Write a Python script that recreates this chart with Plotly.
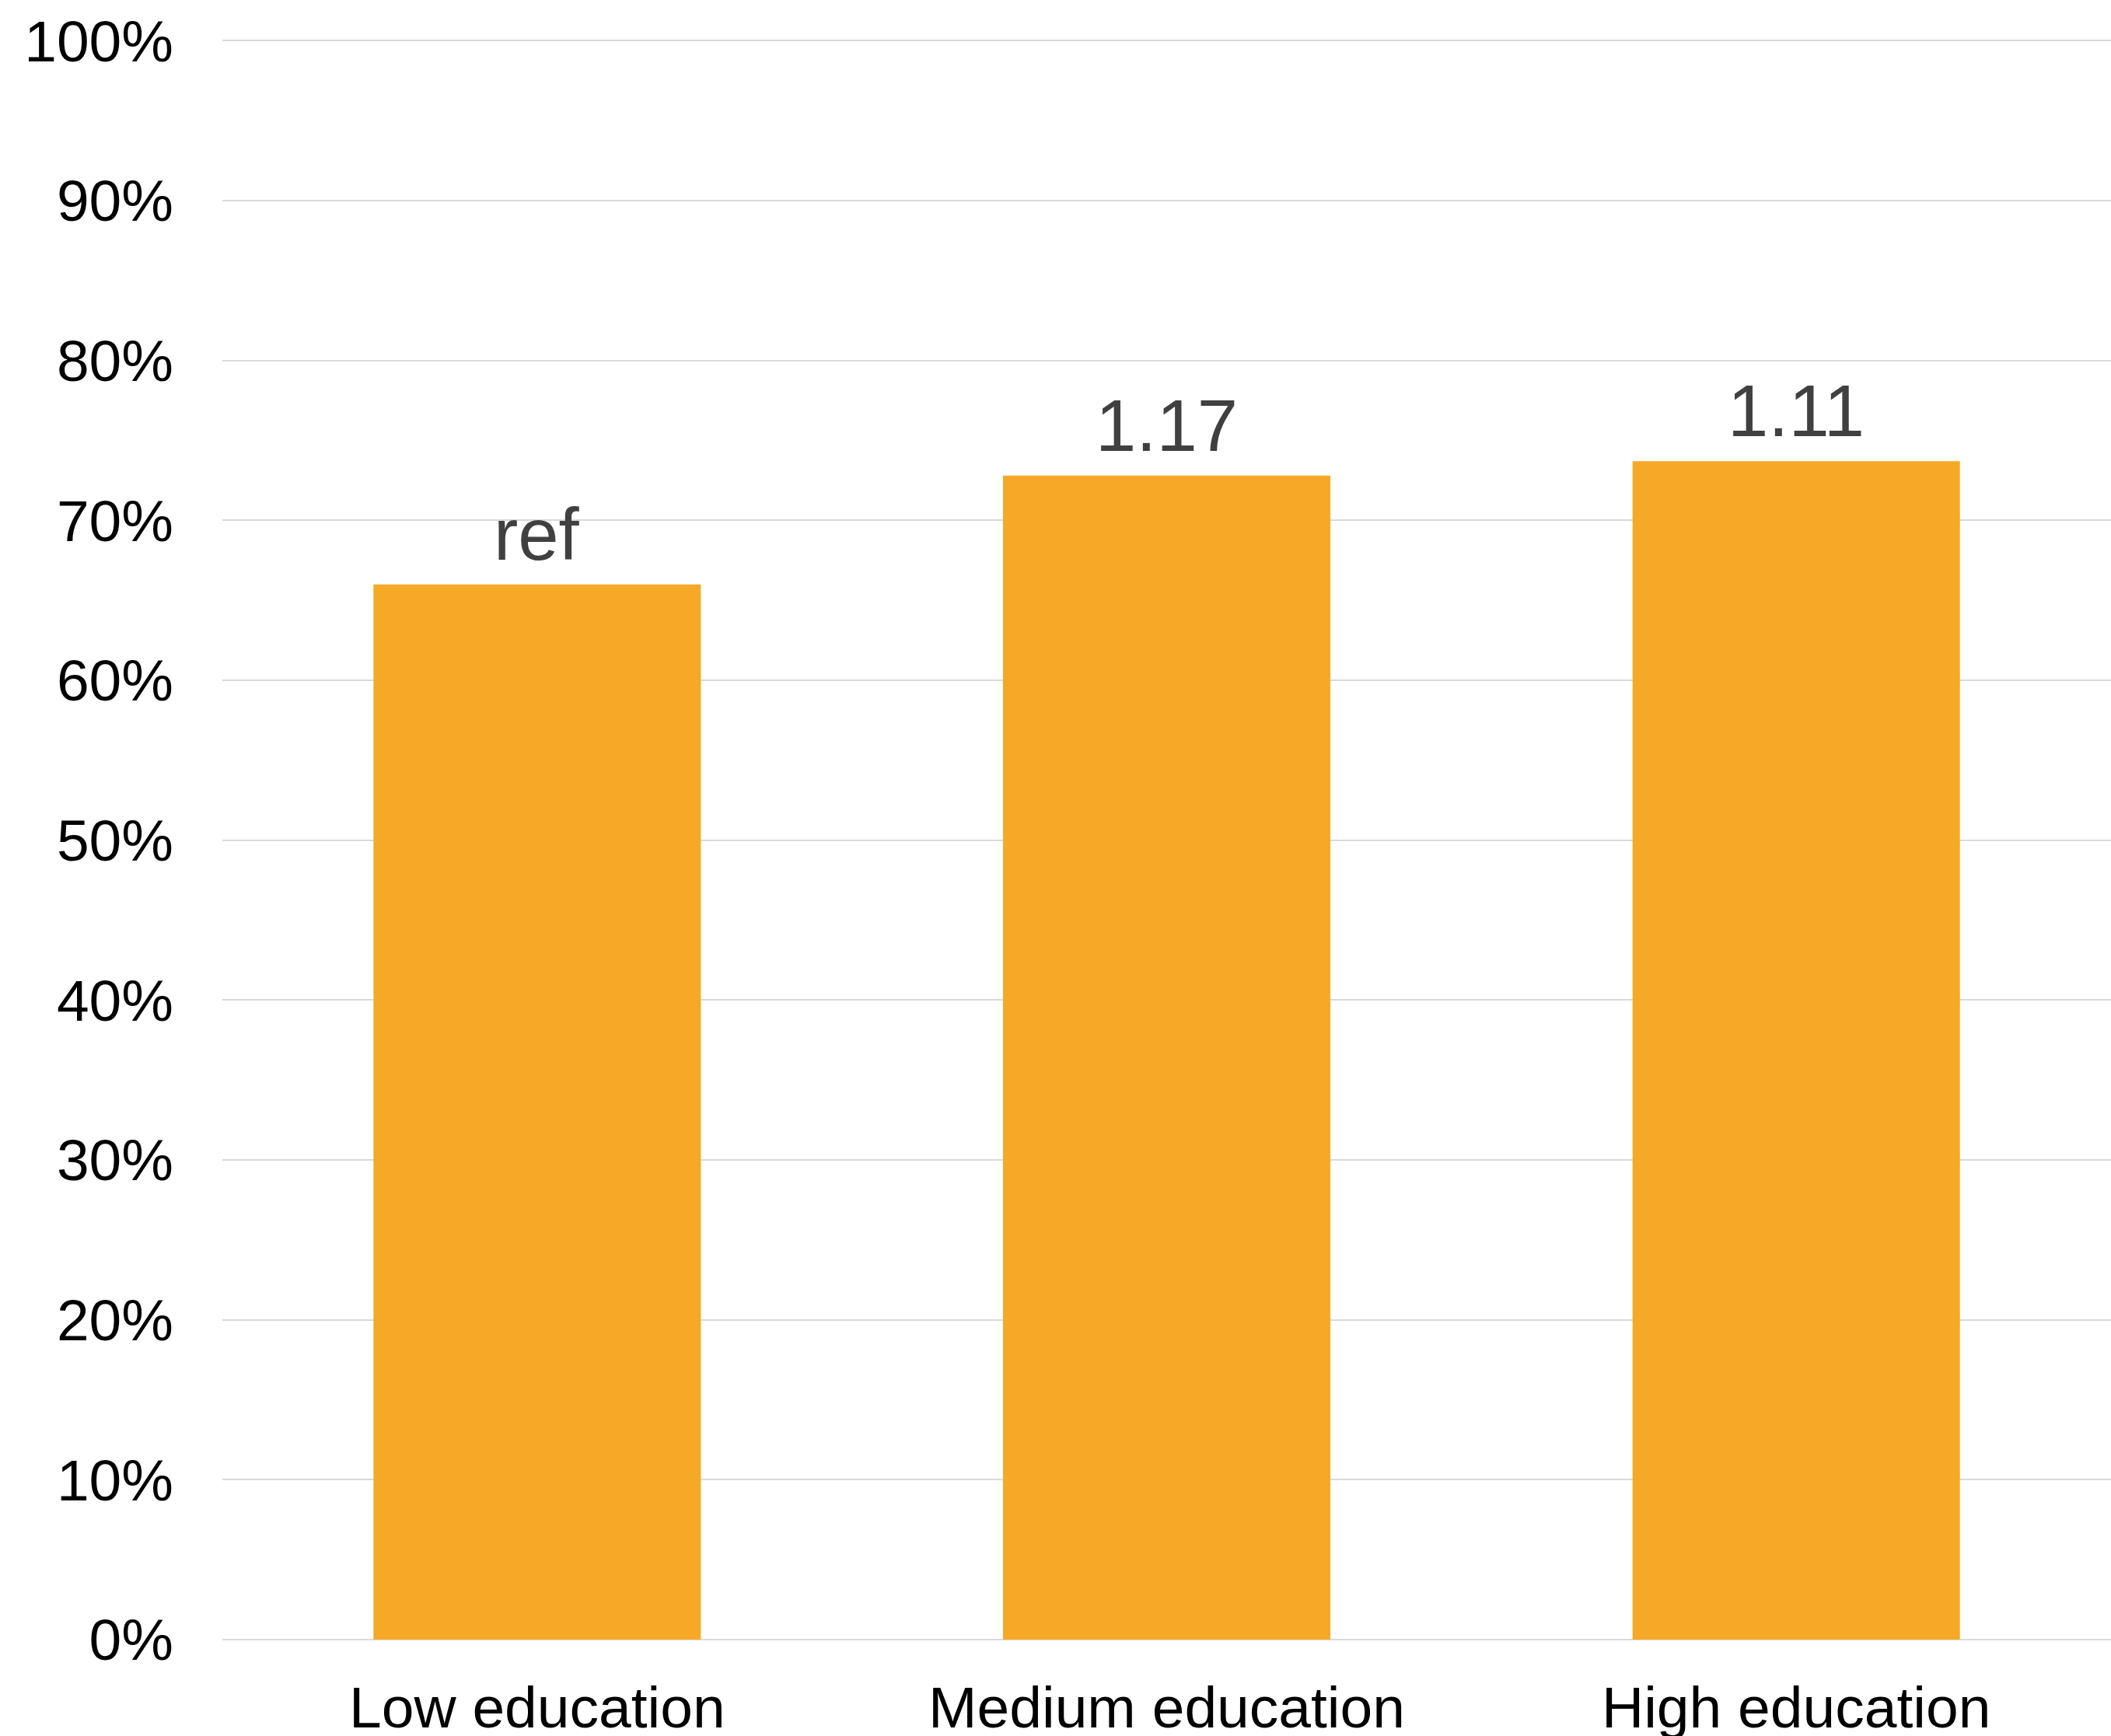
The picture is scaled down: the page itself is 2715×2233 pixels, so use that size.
import plotly.graph_objects as go

categories = ["Low education", "Medium education", "High education"]
values = [0.660, 0.728, 0.737]
bar_labels = ["ref", "1.17", "1.11"]
y_ticks = [0, 0.1, 0.2, 0.3, 0.4, 0.5, 0.6, 0.7, 0.8, 0.9, 1.0]

BAR_COLOR = "#F5A926"
FONT = "Liberation Sans, Arial, sans-serif"

fig = go.Figure()
fig.add_trace(go.Bar(
    x=categories,
    y=values,
    marker=dict(color=BAR_COLOR, line=dict(width=0)),
    hoverinfo="skip",
))

for c, v, t in zip(categories, values, bar_labels):
    fig.add_annotation(
        x=c, y=v, text=t, showarrow=False,
        yanchor="bottom", yshift=10,
        font=dict(family=FONT, size=94, color="#404040"),
    )

fig.update_layout(
    width=2715, height=2233,
    margin=dict(l=286, r=0, t=50, b=124, pad=0),
    paper_bgcolor="white", plot_bgcolor="white",
    bargap=0.48,
    showlegend=False,
    font=dict(family=FONT, size=75, color="black"),
)
fig.update_xaxes(
    showgrid=False, showline=False, zeroline=False, automargin=False,
    ticks="", ticklabelstandoff=37,
    tickfont=dict(family=FONT, size=75, color="black"),
)
fig.update_yaxes(
    range=[0, 1.0012], tickvals=y_ticks, tickformat=".0%", automargin=False,
    showgrid=True, gridcolor="#D9D9D9", gridwidth=2,
    zeroline=True, zerolinecolor="#D9D9D9", zerolinewidth=2,
    showline=False, ticks="", ticklabelstandoff=62,
    tickfont=dict(family=FONT, size=75, color="black"),
)

fig.write_html(
    "out.html",
    config={"displayModeBar": False},
    post_script="document.body.style.margin='0';document.body.style.overflow='hidden';",
)
